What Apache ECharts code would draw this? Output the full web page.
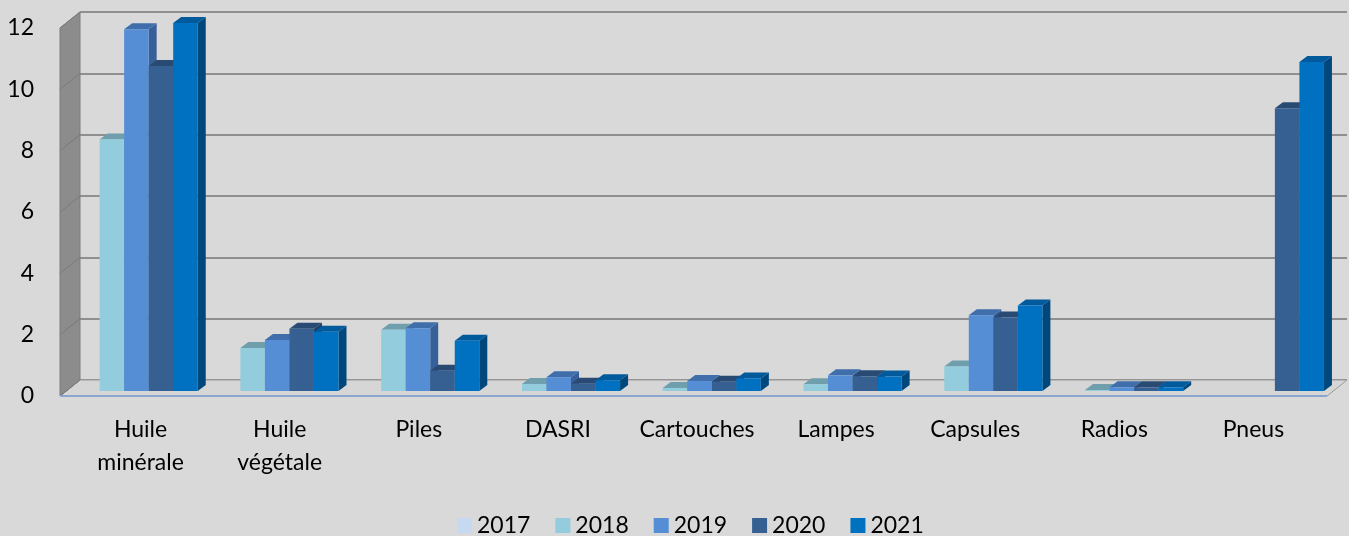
<!DOCTYPE html>
<html>
<head>
<meta charset="utf-8">
<style>
    html, body { margin: 0; padding: 0; background: #d9d9d9; }
    #chart { width: 1349px; height: 536px; }
</style>
</head>
<body>
<div id="chart"></div>
<script src="https://cdn.jsdelivr.net/npm/echarts@6/dist/echarts.min.js"></script>
<script>
    // données (tonnes)
    var categories = ['Huile\nminérale', 'Huile\nvégétale', 'Piles', 'DASRI', 'Cartouches', 'Lampes', 'Capsules', 'Radios', 'Pneus'];
    var years = ['2017', '2018', '2019', '2020', '2021'];
    var v2017 = [null, null, null, null, null, null, null, null, null];
    var v2018 = [8.2, 1.4, 2.0, 0.23, 0.1, 0.22, 0.8, 0.03, null];
    var v2019 = [11.8, 1.66, 2.05, 0.45, 0.33, 0.51, 2.47, 0.12, null];
    var v2020 = [10.6, 2.03, 0.66, 0.24, 0.3, 0.48, 2.4, 0.12, 9.22];
    var v2021 = [12.0, 1.93, 1.64, 0.35, 0.41, 0.47, 2.79, 0.12, 10.73];
    var yTicks = [0, 2, 4, 6, 8, 10, 12];

    var values = [v2017, v2018, v2019, v2020, v2021];
    // couleurs face avant / dessus / côté
    var colors = [
        ['#c6d9f1', '#a6bad2', '#8fa3bb'],
        ['#93cddd', '#6f9fad', '#5f8f9d'],
        ['#558ed5', '#3f6eab', '#37609a'],
        ['#376092', '#294a72', '#223e60'],
        ['#0070c0', '#005a9c', '#00477c']
    ];

    var DEPTH = 20, DEPTH_Y = 16;      // profondeur du cadre 3D
    var FX = -14, FY = 11;             // décalage face avant des barres
    var BX = 8, BY = -6;               // épaisseur des barres
    var BAR_RATIO = 0.1743;            // largeur d'une barre / largeur de catégorie

    var font = 'Lato, "Open Sans", sans-serif';
    var myChart = echarts.init(document.getElementById('chart'));

    // murs et plancher
    function renderFrame(params, api) {
        var cs = params.coordSys;
        var x0 = cs.x, y0 = cs.y, x1 = cs.x + cs.width, y1 = cs.y + cs.height;
        var children = [];
        children.push({
            type: 'polygon',
            shape: { points: [[x0 - DEPTH, y1 + DEPTH_Y], [x0, y1], [x1, y1], [x1 - DEPTH, y1 + DEPTH_Y]] },
            style: { fill: '#d6d6d6', stroke: '#9a9a9a', lineWidth: 1 }
        });
        children.push({
            type: 'polygon',
            shape: { points: [[x0 - DEPTH, y1 + DEPTH_Y], [x0, y1], [x0, y0], [x0 - DEPTH, y0 + DEPTH_Y]] },
            style: { fill: '#8c8c8c', stroke: '#7c7c7c', lineWidth: 1 }
        });
        yTicks.forEach(function (t) {
            var p = api.coord([0, t]);
            children.push({
                type: 'line',
                shape: { x1: x0, y1: p[1], x2: x0 - DEPTH, y2: p[1] + DEPTH_Y },
                style: { stroke: '#7a7a7a', lineWidth: 1 }
            });
        });
        children.push({
            type: 'line',
            shape: { x1: x0 - DEPTH, y1: y1 + DEPTH_Y, x2: x1 - DEPTH, y2: y1 + DEPTH_Y },
            style: { stroke: '#8aa6cc', lineWidth: 2 }
        });
        return { type: 'group', children: children };
    }

    function makeRender(k) {
        return function (params, api) {
            var val = api.value(1);
            if (val == null || isNaN(val)) return;
            var band = api.size([1, 0])[0];
            var w = band * BAR_RATIO;
            var base = api.coord([api.value(0), 0]);
            var top = api.coord([api.value(0), val]);
            var left = base[0] - w * years.length / 2 + k * w + FX;
            var yb = base[1] + FY, yt = top[1] + FY;
            var c = colors[k];
            return {
                type: 'group',
                children: [
                    { type: 'polygon', shape: { points: [[left + w, yt], [left + w + BX, yt + BY], [left + w + BX, yb + BY], [left + w, yb]] }, style: { fill: c[2] } },
                    { type: 'polygon', shape: { points: [[left, yt], [left + w, yt], [left + w + BX, yt + BY], [left + BX, yt + BY]] }, style: { fill: c[1] } },
                    { type: 'rect', shape: { x: left, y: yt, width: w, height: yb - yt }, style: { fill: c[0] } }
                ]
            };
        };
    }

    var series = [{
        name: 'cadre',
        type: 'custom',
        renderItem: renderFrame,
        data: [[0, 0]],
        silent: true
    }];
    years.forEach(function (y, k) {
        series.push({
            name: y,
            type: 'custom',
            renderItem: makeRender(k),
            itemStyle: { color: colors[k][0] },
            encode: { x: 0, y: 1 },
            data: values[k].map(function (v, i) { return [i, v]; })
        });
    });

    myChart.setOption({
        backgroundColor: '#d9d9d9',
        animation: false,
        grid: [
            { left: 80, right: 2, top: 12, bottom: 156 },
            // axe des étiquettes, placé sur le bord avant du plancher
            { left: 71, width: 1252, top: 12, bottom: 156 }
        ],
        legend: {
            data: years,
            left: 452,
            top: 509,
            icon: 'rect',
            itemWidth: 15,
            itemHeight: 15,
            itemGap: 25,
            textStyle: { fontFamily: font, fontSize: 23, color: '#000' }
        },
        xAxis: [{
            type: 'category',
            data: categories,
            axisLine: { show: false },
            axisTick: { show: false },
            axisLabel: { show: false }
        }, {
            type: 'category',
            gridIndex: 1,
            data: categories,
            axisLine: { show: false },
            axisTick: { show: false },
            axisLabel: {
                interval: 0,
                margin: 33,
                fontFamily: font,
                fontSize: 23,
                lineHeight: 33,
                color: '#000'
            }
        }],
        yAxis: [{
            type: 'value',
            min: 0,
            max: 12,
            interval: 2,
            axisLine: { show: false },
            axisTick: { show: false },
            splitLine: { lineStyle: { color: '#8f8f8f', width: 2 } },
            axisLabel: {
                margin: 46,
                verticalAlign: 'top',
                lineHeight: 32,
                fontFamily: font,
                fontSize: 23,
                color: '#000'
            }
        }, {
            type: 'value',
            gridIndex: 1,
            show: false
        }],
        series: series
    });
</script>
</body>
</html>
